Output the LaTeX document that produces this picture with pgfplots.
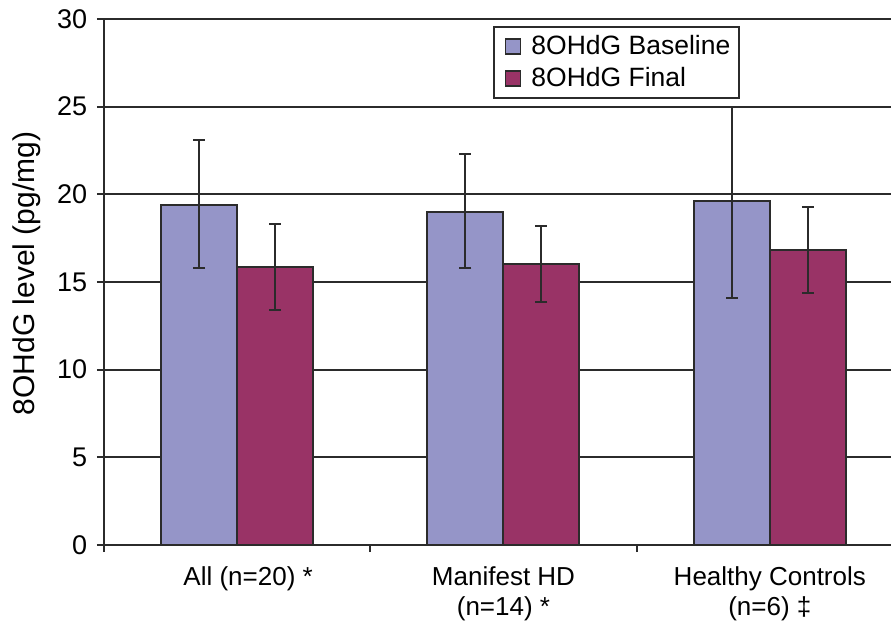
\documentclass[border=0pt]{standalone}
\usepackage{fontspec}
\setmainfont{Liberation Sans}
\usepackage{pgfplots}
\pgfplotsset{compat=1.18}
\definecolor{base}{HTML}{9595C8}
\definecolor{fin}{HTML}{993366}
\definecolor{ln}{HTML}{2B2B2B}
\pgfplotsset{
  myerr/.style={
    error bars/y dir=both, error bars/y explicit,
    error bars/error bar style={ln, line width=2bp},
    error bars/error mark options={rotate=90, mark size=6bp, line width=2bp, ln},
  }
}
\begin{document}
\fontsize{26bp}{31bp}\selectfont
\begin{tikzpicture}
\begin{axis}[
  scale only axis,
  width=787bp, height=526bp,
  xmin=-0.5, xmax=2.455,
  ymin=0, ymax=30,
  ytick={0,5,10,15,20,25,30},
  yticklabels={0,5,10,15,20,25,30},
  ymajorgrids,
  grid style={ln, line width=1.7bp},
  axis x line=bottom, axis y line=left,
  axis line style={ln, line width=2bp, -},
  tick style={ln, line width=2bp},
  tick align=outside,
  major tick length=7bp, minor tick length=7bp,
  xtick={0,1,2},
  xticklabels={{\hspace*{22bp}All (n=20) *},{Manifest HD\\(n=14) *},{Healthy Controls\\(n=6) ‡}},
  major x tick style={draw=none},
  minor xtick={-0.5,0.5,1.5},
  xticklabel style={align=center, font=\fontsize{26bp}{30bp}\selectfont, yshift=-6bp},
  yticklabel style={font=\fontsize{27bp}{31bp}\selectfont, xshift=-1bp},
  ylabel={8OHdG level (pg/mg)},
  ylabel style={at={(axis description cs:-0.098,0.516)}, anchor=center, font=\fontsize{30bp}{34bp}\selectfont},
  ybar=0pt, bar width=76bp,
  legend style={at={(axis description cs:0.4949,0.9867)}, anchor=north west,
    draw=ln, line width=2bp, font=\fontsize{26.5bp}{31bp}\selectfont,
    inner xsep=3bp, inner ysep=6bp, row sep=5bp},
  legend cell align=left,
  legend image code/.code={\path (0bp,0bp); \path (30bp,0bp); \draw[#1, line width=1.5bp] (7bp,-7.5bp) rectangle (22bp,7.5bp);},
]
\addplot[fill=base, draw=ln, line width=2bp, myerr] coordinates {
  (0,19.40) += (0,3.70) -= (0,3.62)
  (1,19.01) += (0,3.29) -= (0,3.23)
  (2,19.60) += (0,5.40) -= (0,5.50)
};
\addplot[fill=fin, draw=ln, line width=2bp, myerr] coordinates {
  (0,15.86) += (0,2.43) -= (0,2.45)
  (1,16.03) += (0,2.17) -= (0,2.19)
  (2,16.80) += (0,2.46) -= (0,2.40)
};
\legend{8OHdG Baseline\hspace*{4bp}, 8OHdG Final}
\end{axis}
\pgfresetboundingbox
\path[use as bounding box] (-104bp,-79bp) rectangle (787bp,545bp);
\end{tikzpicture}
\end{document}
